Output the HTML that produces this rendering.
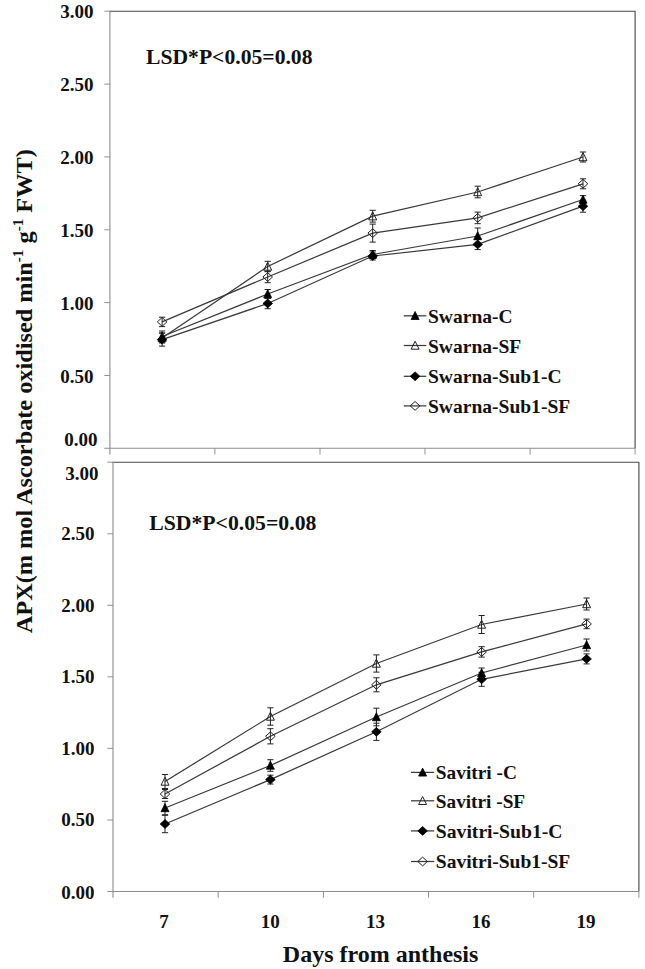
<!DOCTYPE html>
<html lang="en"><head><meta charset="utf-8"><title>APX activity</title>
<style>html,body{margin:0;padding:0;background:#fff}svg{display:block}text{font-family:'Liberation Serif', 'DejaVu Serif', serif;font-weight:bold;fill:#111}</style>
</head><body>
<svg width="645" height="969" viewBox="0 0 645 969">
<rect width="645" height="969" fill="#fff"/>
<path d="M109.4 11.2H635.1V448.3" fill="none" stroke="#4a4a4a" stroke-width="1.15" stroke-linejoin="round"/>
<path d="M109.9 11.2V454.6M104.3 448.3H635.1" fill="none" stroke="#8c8c8c" stroke-width="1.1"/>
<path d="M104.3 11.2H109.9M104.3 84.1H109.9M104.3 156.9H109.9M104.3 229.8H109.9M104.3 302.6H109.9M104.3 375.5H109.9M214.9 448.3V454.6M320.0 448.3V454.6M425.0 448.3V454.6M530.1 448.3V454.6M635.1 448.3V454.6" fill="none" stroke="#8c8c8c" stroke-width="0.95"/>
<path d="M112.5 462.2H638.9V891.5" fill="none" stroke="#4a4a4a" stroke-width="1.15" stroke-linejoin="round"/>
<path d="M113.0 462.2V897.8M107.4 891.5H638.9" fill="none" stroke="#8c8c8c" stroke-width="1.1"/>
<path d="M107.4 462.2H113.0M107.4 533.8H113.0M107.4 605.3H113.0M107.4 676.8H113.0M107.4 748.4H113.0M107.4 820.0H113.0M218.2 891.5V897.8M323.4 891.5V897.8M428.5 891.5V897.8M533.7 891.5V897.8M638.9 891.5V897.8" fill="none" stroke="#8c8c8c" stroke-width="0.95"/>
<text x="93.6" y="17.7" font-size="19" text-anchor="end" >3.00</text>
<text x="93.6" y="91.1" font-size="19" text-anchor="end" >2.50</text>
<text x="93.6" y="163.9" font-size="19" text-anchor="end" >2.00</text>
<text x="93.6" y="236.8" font-size="19" text-anchor="end" >1.50</text>
<text x="93.6" y="309.6" font-size="19" text-anchor="end" >1.00</text>
<text x="93.6" y="382.5" font-size="19" text-anchor="end" >0.50</text>
<text x="97.4" y="446.1" font-size="19" text-anchor="end" >0.00</text>
<text x="98.4" y="479.6" font-size="19" text-anchor="end" >3.00</text>
<text x="94.6" y="540.1" font-size="19" text-anchor="end" >2.50</text>
<text x="94.6" y="611.7" font-size="19" text-anchor="end" >2.00</text>
<text x="94.6" y="683.2" font-size="19" text-anchor="end" >1.50</text>
<text x="94.6" y="754.8" font-size="19" text-anchor="end" >1.00</text>
<text x="94.6" y="826.4" font-size="19" text-anchor="end" >0.50</text>
<text x="94.6" y="898.9" font-size="19" text-anchor="end" >0.00</text>
<text x="164.0" y="927.6" font-size="19" text-anchor="middle" >7</text>
<text x="270.2" y="927.6" font-size="19" text-anchor="middle" >10</text>
<text x="375.6" y="927.6" font-size="19" text-anchor="middle" >13</text>
<text x="481.0" y="927.6" font-size="19" text-anchor="middle" >16</text>
<text x="586.0" y="927.6" font-size="19" text-anchor="middle" >19</text>
<text x="380.6" y="961.6" font-size="24" text-anchor="middle" >Days from anthesis</text>
<text transform="translate(32.2 633.2) rotate(-90)" font-size="24" textLength="484" lengthAdjust="spacingAndGlyphs">APX(m mol Ascorbate oxidised min<tspan font-size="15" dy="-9">-1</tspan><tspan dy="9"> g</tspan><tspan font-size="15" dy="-9">-1</tspan><tspan dy="9"> FWT)</tspan></text>
<text x="146.0" y="63.5" font-size="20" text-anchor="start" textLength="166.5" lengthAdjust="spacingAndGlyphs">LSD*P&lt;0.05=0.08</text>
<text x="149.2" y="530.3" font-size="20" text-anchor="start" textLength="167.2" lengthAdjust="spacingAndGlyphs">LSD*P&lt;0.05=0.08</text>
<polyline points="162.1,336.5 267.7,294.0 372.7,254.5 477.7,236.0 583.0,199.5" fill="none" stroke="#3a3a3a" stroke-width="1.25"/>
<polyline points="162.1,338.0 267.7,266.5 372.7,216.2 477.7,192.0 583.0,157.0" fill="none" stroke="#3a3a3a" stroke-width="1.25"/>
<polyline points="162.1,339.6 267.7,303.5 372.7,256.0 477.7,244.4 583.0,206.2" fill="none" stroke="#3a3a3a" stroke-width="1.25"/>
<polyline points="162.1,321.9 267.7,277.0 372.7,233.1 477.7,217.9 583.0,183.8" fill="none" stroke="#3a3a3a" stroke-width="1.25"/>
<path d="M162.1 331.0V342.0M159.0 331.0H165.2M159.0 342.0H165.2" stroke="#222" stroke-width="1" fill="none"/>
<path d="M267.7 289.5V298.5M264.6 289.5H270.8M264.6 298.5H270.8" stroke="#222" stroke-width="1" fill="none"/>
<path d="M372.7 250.5V258.5M369.6 250.5H375.8M369.6 258.5H375.8" stroke="#222" stroke-width="1" fill="none"/>
<path d="M477.7 228.0V244.0M474.6 228.0H480.8M474.6 244.0H480.8" stroke="#222" stroke-width="1" fill="none"/>
<path d="M583.0 195.6V203.4M579.9 195.6H586.1M579.9 203.4H586.1" stroke="#222" stroke-width="1" fill="none"/>
<path d="M162.1 333.0V343.0M159.0 333.0H165.2M159.0 343.0H165.2" stroke="#222" stroke-width="1" fill="none"/>
<path d="M267.7 261.3V271.7M264.6 261.3H270.8M264.6 271.7H270.8" stroke="#222" stroke-width="1" fill="none"/>
<path d="M372.7 210.3V222.1M369.6 210.3H375.8M369.6 222.1H375.8" stroke="#222" stroke-width="1" fill="none"/>
<path d="M477.7 186.2V197.8M474.6 186.2H480.8M474.6 197.8H480.8" stroke="#222" stroke-width="1" fill="none"/>
<path d="M583.0 152.0V162.0M579.9 152.0H586.1M579.9 162.0H586.1" stroke="#222" stroke-width="1" fill="none"/>
<path d="M162.1 333.1V346.1M159.0 333.1H165.2M159.0 346.1H165.2" stroke="#222" stroke-width="1" fill="none"/>
<path d="M267.7 298.3V308.7M264.6 298.3H270.8M264.6 308.7H270.8" stroke="#222" stroke-width="1" fill="none"/>
<path d="M372.7 252.0V260.0M369.6 252.0H375.8M369.6 260.0H375.8" stroke="#222" stroke-width="1" fill="none"/>
<path d="M477.7 239.2V249.6M474.6 239.2H480.8M474.6 249.6H480.8" stroke="#222" stroke-width="1" fill="none"/>
<path d="M583.0 200.2V212.2M579.9 200.2H586.1M579.9 212.2H586.1" stroke="#222" stroke-width="1" fill="none"/>
<path d="M162.1 317.2V326.6M159.0 317.2H165.2M159.0 326.6H165.2" stroke="#222" stroke-width="1" fill="none"/>
<path d="M267.7 271.3V282.7M264.6 271.3H270.8M264.6 282.7H270.8" stroke="#222" stroke-width="1" fill="none"/>
<path d="M372.7 224.1V242.1M369.6 224.1H375.8M369.6 242.1H375.8" stroke="#222" stroke-width="1" fill="none"/>
<path d="M477.7 212.1V223.7M474.6 212.1H480.8M474.6 223.7H480.8" stroke="#222" stroke-width="1" fill="none"/>
<path d="M583.0 178.8V188.8M579.9 178.8H586.1M579.9 188.8H586.1" stroke="#222" stroke-width="1" fill="none"/>
<polygon points="162.1,332.2 166.1,340.2 158.1,340.2" fill="#000" stroke="#000" stroke-width="0.8"/>
<polygon points="267.7,289.7 271.7,297.7 263.7,297.7" fill="#000" stroke="#000" stroke-width="0.8"/>
<polygon points="372.7,250.2 376.7,258.2 368.7,258.2" fill="#000" stroke="#000" stroke-width="0.8"/>
<polygon points="477.7,231.7 481.7,239.7 473.7,239.7" fill="#000" stroke="#000" stroke-width="0.8"/>
<polygon points="583.0,195.2 587.0,203.2 579.0,203.2" fill="#000" stroke="#000" stroke-width="0.8"/>
<polygon points="162.1,333.7 166.1,341.7 158.1,341.7" fill="none" stroke="#222" stroke-width="1"/>
<polygon points="267.7,262.2 271.7,270.2 263.7,270.2" fill="none" stroke="#222" stroke-width="1"/>
<polygon points="372.7,211.9 376.7,219.9 368.7,219.9" fill="none" stroke="#222" stroke-width="1"/>
<polygon points="477.7,187.7 481.7,195.7 473.7,195.7" fill="none" stroke="#222" stroke-width="1"/>
<polygon points="583.0,152.7 587.0,160.7 579.0,160.7" fill="none" stroke="#222" stroke-width="1"/>
<polygon points="162.1,335.2 166.9,339.6 162.1,344.0 157.3,339.6" fill="#000" stroke="#000" stroke-width="0.8"/>
<polygon points="267.7,299.1 272.5,303.5 267.7,307.9 262.9,303.5" fill="#000" stroke="#000" stroke-width="0.8"/>
<polygon points="372.7,251.6 377.5,256.0 372.7,260.4 367.9,256.0" fill="#000" stroke="#000" stroke-width="0.8"/>
<polygon points="477.7,240.0 482.5,244.4 477.7,248.8 472.9,244.4" fill="#000" stroke="#000" stroke-width="0.8"/>
<polygon points="583.0,201.8 587.8,206.2 583.0,210.6 578.2,206.2" fill="#000" stroke="#000" stroke-width="0.8"/>
<polygon points="162.1,317.5 166.9,321.9 162.1,326.3 157.3,321.9" fill="none" stroke="#222" stroke-width="1"/>
<polygon points="267.7,272.6 272.5,277.0 267.7,281.4 262.9,277.0" fill="none" stroke="#222" stroke-width="1"/>
<polygon points="372.7,228.7 377.5,233.1 372.7,237.5 367.9,233.1" fill="none" stroke="#222" stroke-width="1"/>
<polygon points="477.7,213.5 482.5,217.9 477.7,222.3 472.9,217.9" fill="none" stroke="#222" stroke-width="1"/>
<polygon points="583.0,179.4 587.8,183.8 583.0,188.2 578.2,183.8" fill="none" stroke="#222" stroke-width="1"/>
<polyline points="165.0,808.0 270.4,765.5 376.4,717.0 481.6,673.0 586.6,645.0" fill="none" stroke="#3a3a3a" stroke-width="1.25"/>
<polyline points="165.0,781.5 270.4,716.5 376.4,663.5 481.6,624.5 586.6,604.0" fill="none" stroke="#3a3a3a" stroke-width="1.25"/>
<polyline points="165.0,824.0 270.4,779.6 376.4,731.8 481.6,679.3 586.6,658.9" fill="none" stroke="#3a3a3a" stroke-width="1.25"/>
<polyline points="165.0,794.0 270.4,736.3 376.4,684.8 481.6,651.9 586.6,623.9" fill="none" stroke="#3a3a3a" stroke-width="1.25"/>
<path d="M165.0 801.3V814.7M161.9 801.3H168.1M161.9 814.7H168.1" stroke="#222" stroke-width="1" fill="none"/>
<path d="M270.4 759.7V771.3M267.3 759.7H273.5M267.3 771.3H273.5" stroke="#222" stroke-width="1" fill="none"/>
<path d="M376.4 708.2V725.8M373.3 708.2H379.5M373.3 725.8H379.5" stroke="#222" stroke-width="1" fill="none"/>
<path d="M481.6 668.0V678.0M478.5 668.0H484.7M478.5 678.0H484.7" stroke="#222" stroke-width="1" fill="none"/>
<path d="M586.6 639.0V651.0M583.5 639.0H589.7M583.5 651.0H589.7" stroke="#222" stroke-width="1" fill="none"/>
<path d="M165.0 774.5V788.5M161.9 774.5H168.1M161.9 788.5H168.1" stroke="#222" stroke-width="1" fill="none"/>
<path d="M270.4 707.8V725.2M267.3 707.8H273.5M267.3 725.2H273.5" stroke="#222" stroke-width="1" fill="none"/>
<path d="M376.4 654.9V672.1M373.3 654.9H379.5M373.3 672.1H379.5" stroke="#222" stroke-width="1" fill="none"/>
<path d="M481.6 615.5V633.5M478.5 615.5H484.7M478.5 633.5H484.7" stroke="#222" stroke-width="1" fill="none"/>
<path d="M586.6 598.0V610.0M583.5 598.0H589.7M583.5 610.0H589.7" stroke="#222" stroke-width="1" fill="none"/>
<path d="M165.0 815.3V832.7M161.9 815.3H168.1M161.9 832.7H168.1" stroke="#222" stroke-width="1" fill="none"/>
<path d="M270.4 775.2V784.0M267.3 775.2H273.5M267.3 784.0H273.5" stroke="#222" stroke-width="1" fill="none"/>
<path d="M376.4 723.2V740.4M373.3 723.2H379.5M373.3 740.4H379.5" stroke="#222" stroke-width="1" fill="none"/>
<path d="M481.6 672.3V686.3M478.5 672.3H484.7M478.5 686.3H484.7" stroke="#222" stroke-width="1" fill="none"/>
<path d="M586.6 653.9V663.9M583.5 653.9H589.7M583.5 663.9H589.7" stroke="#222" stroke-width="1" fill="none"/>
<path d="M165.0 789.5V798.5M161.9 789.5H168.1M161.9 798.5H168.1" stroke="#222" stroke-width="1" fill="none"/>
<path d="M270.4 728.7V743.9M267.3 728.7H273.5M267.3 743.9H273.5" stroke="#222" stroke-width="1" fill="none"/>
<path d="M376.4 677.8V691.8M373.3 677.8H379.5M373.3 691.8H379.5" stroke="#222" stroke-width="1" fill="none"/>
<path d="M481.6 646.7V657.1M478.5 646.7H484.7M478.5 657.1H484.7" stroke="#222" stroke-width="1" fill="none"/>
<path d="M586.6 619.1V628.7M583.5 619.1H589.7M583.5 628.7H589.7" stroke="#222" stroke-width="1" fill="none"/>
<polygon points="165.0,803.7 169.0,811.7 161.0,811.7" fill="#000" stroke="#000" stroke-width="0.8"/>
<polygon points="270.4,761.2 274.4,769.2 266.4,769.2" fill="#000" stroke="#000" stroke-width="0.8"/>
<polygon points="376.4,712.7 380.4,720.7 372.4,720.7" fill="#000" stroke="#000" stroke-width="0.8"/>
<polygon points="481.6,668.7 485.6,676.7 477.6,676.7" fill="#000" stroke="#000" stroke-width="0.8"/>
<polygon points="586.6,640.7 590.6,648.7 582.6,648.7" fill="#000" stroke="#000" stroke-width="0.8"/>
<polygon points="165.0,777.2 169.0,785.2 161.0,785.2" fill="none" stroke="#222" stroke-width="1"/>
<polygon points="270.4,712.2 274.4,720.2 266.4,720.2" fill="none" stroke="#222" stroke-width="1"/>
<polygon points="376.4,659.2 380.4,667.2 372.4,667.2" fill="none" stroke="#222" stroke-width="1"/>
<polygon points="481.6,620.2 485.6,628.2 477.6,628.2" fill="none" stroke="#222" stroke-width="1"/>
<polygon points="586.6,599.7 590.6,607.7 582.6,607.7" fill="none" stroke="#222" stroke-width="1"/>
<polygon points="165.0,819.6 169.8,824.0 165.0,828.4 160.2,824.0" fill="#000" stroke="#000" stroke-width="0.8"/>
<polygon points="270.4,775.2 275.2,779.6 270.4,784.0 265.6,779.6" fill="#000" stroke="#000" stroke-width="0.8"/>
<polygon points="376.4,727.4 381.2,731.8 376.4,736.2 371.6,731.8" fill="#000" stroke="#000" stroke-width="0.8"/>
<polygon points="481.6,674.9 486.4,679.3 481.6,683.7 476.8,679.3" fill="#000" stroke="#000" stroke-width="0.8"/>
<polygon points="586.6,654.5 591.4,658.9 586.6,663.3 581.8,658.9" fill="#000" stroke="#000" stroke-width="0.8"/>
<polygon points="165.0,789.6 169.8,794.0 165.0,798.4 160.2,794.0" fill="none" stroke="#222" stroke-width="1"/>
<polygon points="270.4,731.9 275.2,736.3 270.4,740.7 265.6,736.3" fill="none" stroke="#222" stroke-width="1"/>
<polygon points="376.4,680.4 381.2,684.8 376.4,689.2 371.6,684.8" fill="none" stroke="#222" stroke-width="1"/>
<polygon points="481.6,647.5 486.4,651.9 481.6,656.3 476.8,651.9" fill="none" stroke="#222" stroke-width="1"/>
<polygon points="586.6,619.5 591.4,623.9 586.6,628.3 581.8,623.9" fill="none" stroke="#222" stroke-width="1"/>
<path d="M403.8 315.8H426.3" stroke="#3a3a3a" stroke-width="1.25"/>
<polygon points="415.1,311.5 419.1,319.5 411.1,319.5" fill="#000" stroke="#000" stroke-width="0.8"/>
<text x="428.0" y="322.6" font-size="19" text-anchor="start" textLength="84.6" lengthAdjust="spacingAndGlyphs">Swarna-C</text>
<path d="M403.8 345.5H426.3" stroke="#3a3a3a" stroke-width="1.25"/>
<polygon points="415.1,341.2 419.1,349.2 411.1,349.2" fill="none" stroke="#222" stroke-width="1"/>
<text x="428.0" y="352.8" font-size="19" text-anchor="start" textLength="93.3" lengthAdjust="spacingAndGlyphs">Swarna-SF</text>
<path d="M403.8 376.3H426.3" stroke="#3a3a3a" stroke-width="1.25"/>
<polygon points="415.1,371.9 419.9,376.3 415.1,380.7 410.2,376.3" fill="#000" stroke="#000" stroke-width="0.8"/>
<text x="428.0" y="382.9" font-size="19" text-anchor="start" textLength="133.5" lengthAdjust="spacingAndGlyphs">Swarna-Sub1-C</text>
<path d="M403.8 405.9H426.3" stroke="#3a3a3a" stroke-width="1.25"/>
<polygon points="415.1,401.5 419.9,405.9 415.1,410.3 410.2,405.9" fill="none" stroke="#222" stroke-width="1"/>
<text x="428.0" y="412.8" font-size="19" text-anchor="start" textLength="142.2" lengthAdjust="spacingAndGlyphs">Swarna-Sub1-SF</text>
<path d="M411.0 772.4H434.2" stroke="#3a3a3a" stroke-width="1.25"/>
<polygon points="422.6,768.1 426.6,776.1 418.6,776.1" fill="#000" stroke="#000" stroke-width="0.8"/>
<text x="435.8" y="778.8" font-size="19" text-anchor="start" textLength="81.1" lengthAdjust="spacingAndGlyphs">Savitri -C</text>
<path d="M411.0 800.8H434.2" stroke="#3a3a3a" stroke-width="1.25"/>
<polygon points="422.6,796.5 426.6,804.5 418.6,804.5" fill="none" stroke="#222" stroke-width="1"/>
<text x="435.8" y="808.3" font-size="19" text-anchor="start" textLength="89.3" lengthAdjust="spacingAndGlyphs">Savitri -SF</text>
<path d="M411.0 830.9H434.2" stroke="#3a3a3a" stroke-width="1.25"/>
<polygon points="422.6,826.5 427.4,830.9 422.6,835.3 417.8,830.9" fill="#000" stroke="#000" stroke-width="0.8"/>
<text x="435.8" y="838.1" font-size="19" text-anchor="start" textLength="126.7" lengthAdjust="spacingAndGlyphs">Savitri-Sub1-C</text>
<path d="M411.0 861.5H434.2" stroke="#3a3a3a" stroke-width="1.25"/>
<polygon points="422.6,857.1 427.4,861.5 422.6,865.9 417.8,861.5" fill="none" stroke="#222" stroke-width="1"/>
<text x="435.8" y="868.2" font-size="19" text-anchor="start" textLength="134.5" lengthAdjust="spacingAndGlyphs">Savitri-Sub1-SF</text>
</svg>
</body></html>
